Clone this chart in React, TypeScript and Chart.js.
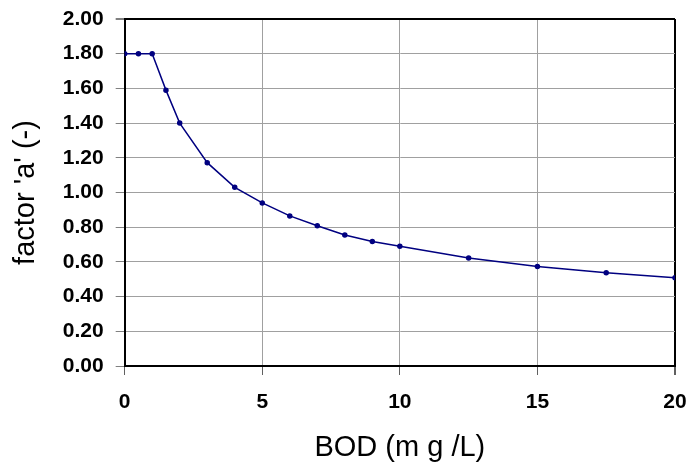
import React, { useEffect, useRef } from "react";
import { Chart, registerables } from "chart.js";

Chart.register(...registerables);

const bodValues = [0, 0.5, 1, 1.5, 2, 3, 4, 5, 6, 7, 8, 9, 10, 12.5, 15, 17.5, 20];
const factorValues = [1.8, 1.8, 1.8, 1.59, 1.4, 1.172, 1.03, 0.94, 0.865, 0.808, 0.755, 0.718, 0.69, 0.622, 0.574, 0.538, 0.508];
const xTitle = "BOD (m g /L)";
const yTitle = "factor 'a' (-)";

const FONT = "'Liberation Sans', Arial, sans-serif";

export default function App() {
  const ref = useRef<HTMLCanvasElement>(null);
  useEffect(() => {
    document.body.style.margin = "0";
    const ctx = ref.current!;
    const chart = new Chart(ctx, {
      type: "line",
      data: {
        datasets: [
          {
            data: bodValues.map((x, i) => ({ x, y: factorValues[i] })),
            borderColor: "#000080",
            backgroundColor: "#000080",
            borderWidth: 1.5,
            pointRadius: 2,
            pointHoverRadius: 2,
            fill: false,
            tension: 0,
          },
        ],
      },
      options: {
        animation: false,
        responsive: false,
        maintainAspectRatio: false,
        layout: { padding: { left: 9, right: 16, top: 19, bottom: 0 } },
        plugins: { legend: { display: false }, tooltip: { enabled: false } },
        scales: {
          x: {
            type: "linear",
            min: 0,
            max: 20,
            afterFit: (s: any) => {
              s.paddingLeft = 0;
              s.paddingRight = 0;
            },
            ticks: {
              stepSize: 5,
              maxRotation: 0,
              color: "#000",
              font: { family: FONT, size: 21, weight: "bold" },
              padding: 15,
            },
            grid: {
              color: (c: any) => (c.tick && c.tick.value === 20 ? "#000" : "#a0a0a0"),
              lineWidth: (c: any) => (c.tick && c.tick.value === 20 ? 2 : 1),
              tickLength: 9,
              tickColor: "#606060",
            },
            border: { color: "#000", width: 2 },
            title: {
              display: true,
              text: xTitle,
              color: "#000",
              font: { family: FONT, size: 29 },
              padding: { top: 0, bottom: 6 },
            },
          },
          y: {
            min: 0,
            max: 2,
            afterFit: (s: any) => {
              s.paddingTop = 0;
              s.paddingBottom = 0;
            },
            ticks: {
              stepSize: 0.2,
              color: "#000",
              font: { family: FONT, size: 21, weight: "bold" },
              padding: 12,
              callback: (v: any) => Number(v).toFixed(2),
            },
            grid: {
              color: (c: any) => (c.tick && c.tick.value === 2 ? "#000" : "#a0a0a0"),
              lineWidth: (c: any) => (c.tick && c.tick.value === 2 ? 2 : 1),
              tickLength: 9,
              tickColor: "#808080",
            },
            border: { color: "#000", width: 2 },
            title: {
              display: true,
              text: yTitle,
              color: "#000",
              font: { family: FONT, size: 29 },
              padding: { top: 0, bottom: 7 },
            },
          },
        },
      },
    });
    return () => chart.destroy();
  }, []);
  return <canvas ref={ref} width={691} height={471} style={{ display: "block" }} />;
}
